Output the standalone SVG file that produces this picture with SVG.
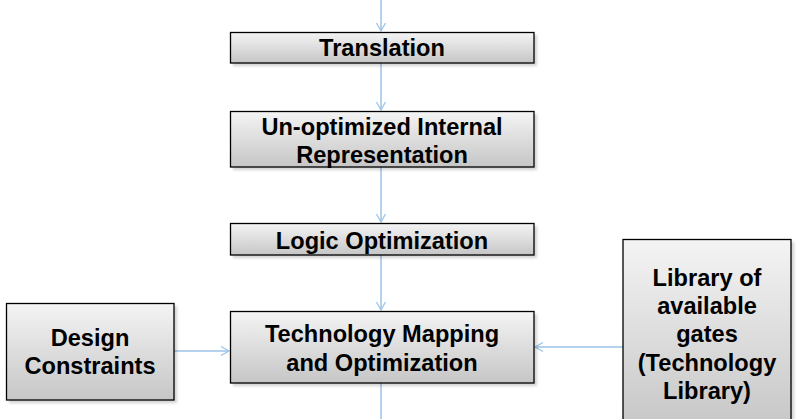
<svg xmlns="http://www.w3.org/2000/svg" width="798" height="419" viewBox="0 0 798 419">
<style>
.box{fill:url(#g);stroke:#000;stroke-width:1.3}
.sh{fill:#000;opacity:0.18;filter:url(#blur)}
.t{font-family:"Liberation Sans",Arial,sans-serif;font-weight:bold;font-size:23.6px;fill:#000;text-anchor:middle}
.c{fill:none;stroke:#9dc3e6;stroke-width:1.5}
</style>
<defs>
<linearGradient id="g" x1="0" y1="0" x2="0" y2="1">
<stop offset="0" stop-color="#f4f4f4"/>
<stop offset="1" stop-color="#c6c6c6"/>
</linearGradient>
<filter id="blur" x="-10%" y="-10%" width="120%" height="130%"><feGaussianBlur stdDeviation="1.5"/></filter>
<marker id="a" markerWidth="12" markerHeight="12" refX="10" refY="6" orient="auto" markerUnits="userSpaceOnUse">
<path d="M2,1.5 L10,6 L2,10.5" fill="none" stroke="#9dc3e6" stroke-width="1.3"/>
</marker>
</defs>
<rect width="798" height="419" fill="#fff"/>
<g id="connectors">
<line class="c" x1="381" y1="0" x2="381" y2="31" marker-end="url(#a)"/>
<line class="c" x1="381" y1="63" x2="381" y2="110" marker-end="url(#a)"/>
<line class="c" x1="381" y1="167" x2="381" y2="222" marker-end="url(#a)"/>
<line class="c" x1="381" y1="255" x2="381" y2="310" marker-end="url(#a)"/>
<line class="c" x1="381" y1="383" x2="381" y2="419"/>
<line class="c" x1="174" y1="351" x2="229" y2="351" marker-end="url(#a)"/>
<line class="c" x1="623" y1="347" x2="535" y2="347" marker-end="url(#a)"/>
</g>
<g id="translation">
<rect class="sh" x="233" y="35" width="304" height="31"/>
<rect class="box" x="230.5" y="32.5" width="303.5" height="30.5"/>
<text class="t" x="382" y="56">Translation</text>
</g>
<g id="unoptimized">
<rect class="sh" x="233" y="114" width="304" height="56"/>
<rect class="box" x="230.5" y="111.5" width="303.5" height="55.5"/>
<text class="t" x="382" y="134.5">Un-optimized Internal</text>
<text class="t" x="382" y="162.5">Representation</text>
</g>
<g id="logic">
<rect class="sh" x="233" y="226" width="304" height="32"/>
<rect class="box" x="230.5" y="223.5" width="303.5" height="31.5"/>
<text class="t" x="382" y="248.5">Logic Optimization</text>
</g>
<g id="techmap">
<rect class="sh" x="233" y="314" width="304" height="72"/>
<rect class="box" x="230.5" y="311.5" width="303.5" height="71.5"/>
<text class="t" x="382" y="341.5">Technology Mapping</text>
<text class="t" x="382" y="370.5">and Optimization</text>
</g>
<g id="design">
<rect class="sh" x="9" y="306" width="168" height="97"/>
<rect class="box" x="6.5" y="303.5" width="167.5" height="96.5"/>
<text class="t" x="90" y="345.5">Design</text>
<text class="t" x="90" y="373.5">Constraints</text>
</g>
<g id="library">
<rect class="sh" x="626" y="242" width="168" height="190"/>
<rect class="box" x="623" y="239.5" width="168" height="190"/>
<text class="t" x="707" y="285.5">Library of</text>
<text class="t" x="707" y="313.5">available</text>
<text class="t" x="707" y="341.5">gates</text>
<text class="t" x="707" y="370.5">(Technology</text>
<text class="t" x="707" y="398.5">Library)</text>
</g>
</svg>
